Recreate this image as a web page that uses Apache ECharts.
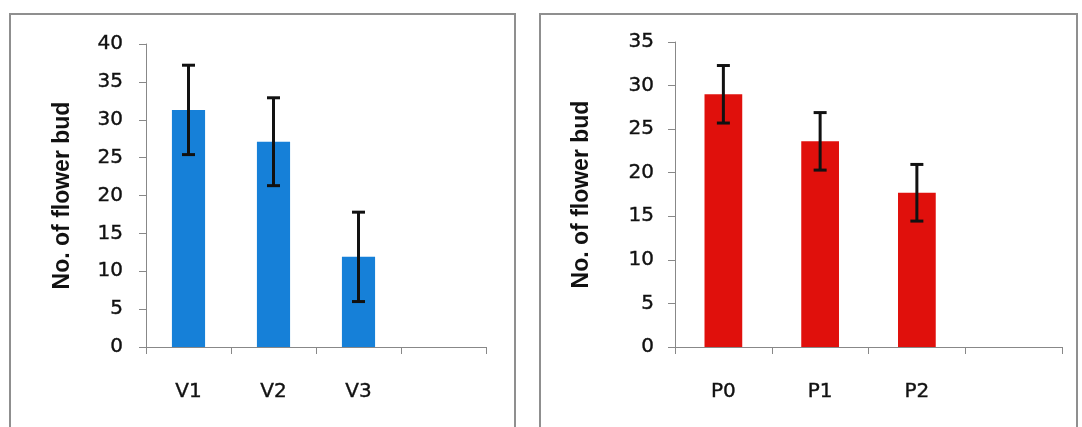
<!DOCTYPE html>
<html>
<head>
<meta charset="utf-8">
<script src="https://cdn.jsdelivr.net/npm/echarts@6/dist/echarts.min.js"></script>
<style>
html,body{margin:0;padding:0;background:#fff;}
#chart{width:1082px;height:427px;}
</style>
</head>
<body>
<div id="chart"></div>
<script>
// ---- data ----
const vCategories = ['V1', 'V2', 'V3', ''];
const vMeans = [31.3, 27.1, 11.9];
const vErrors = [5.9, 5.8, 5.9];
const vTicks = { min: 0, max: 40, interval: 5 };

const pCategories = ['P0', 'P1', 'P2', ''];
const pMeans = [29.0, 23.6, 17.7];
const pErrors = [3.3, 3.3, 3.25];
const pTicks = { min: 0, max: 35, interval: 5 };

const yTitle = 'No. of flower bud';

// ---- build ----
function errData(means, errs) {
  return means.map((m, i) => [i, m - errs[i], m + errs[i]]);
}
function renderErr(params, api) {
  const x = api.value(0);
  const lo = api.coord([x, api.value(1)]);
  const hi = api.coord([x, api.value(2)]);
  const hw = 6.5;
  const style = { stroke: '#111', lineWidth: 3 };
  return {
    type: 'group',
    children: [
      { type: 'line', shape: { x1: hi[0], y1: hi[1], x2: lo[0], y2: lo[1] }, style },
      { type: 'line', shape: { x1: hi[0] - hw, y1: hi[1], x2: hi[0] + hw, y2: hi[1] }, style },
      { type: 'line', shape: { x1: lo[0] - hw, y1: lo[1], x2: lo[0] + hw, y2: lo[1] }, style }
    ]
  };
}
const axisColor = '#888888';
const labelFont = { fontFamily: 'DejaVu Sans', fontSize: 20, color: '#111', textBorderColor: '#111', textBorderWidth: 0.4 };

function xAxisOf(idx, cats) {
  return {
    type: 'category', gridIndex: idx, data: cats,
    axisLine: { lineStyle: { color: axisColor, width: 1 } },
    axisTick: { show: true, length: 7, lineStyle: { color: axisColor } },
    axisLabel: Object.assign({ margin: 35 }, labelFont),
    splitLine: { show: false }
  };
}
function yAxisOf(idx, t, gap, margin) {
  return {
    type: 'value', gridIndex: idx, min: t.min, max: t.max, interval: t.interval,
    name: yTitle, nameLocation: 'middle', nameRotate: 90, nameGap: gap,
    nameTextStyle: { fontFamily: 'Liberation Sans', fontWeight: 'bold', fontSize: 23, color: '#111' },
    axisLine: { show: true, lineStyle: { color: axisColor, width: 1 } },
    axisTick: { show: true, length: 7, lineStyle: { color: axisColor } },
    axisLabel: Object.assign({ margin: margin }, labelFont),
    splitLine: { show: false }
  };
}

const chart = echarts.init(document.getElementById('chart'), null, { renderer: 'canvas' });
chart.setOption({
  animation: false,
  backgroundColor: '#ffffff',
  graphic: [
    { type: 'rect', shape: { x: 10, y: 14, width: 505, height: 440 }, style: { fill: 'none', stroke: '#8f8f8f', lineWidth: 2 } },
    { type: 'rect', shape: { x: 540, y: 14, width: 537, height: 440 }, style: { fill: 'none', stroke: '#8f8f8f', lineWidth: 2 } }
  ],
  grid: [
    { left: 146, right: 596, top: 44, bottom: 80 },
    { left: 675, right: 20, top: 42, bottom: 80 }
  ],
  xAxis: [xAxisOf(0, vCategories), xAxisOf(1, pCategories)],
  yAxis: [yAxisOf(0, vTicks, 72, 23), yAxisOf(1, pTicks, 82, 21)],
  series: [
    { type: 'bar', xAxisIndex: 0, yAxisIndex: 0, data: vMeans, barWidth: '39%', itemStyle: { color: '#1680d8' } },
    { type: 'custom', xAxisIndex: 0, yAxisIndex: 0, data: errData(vMeans, vErrors), renderItem: renderErr, encode: { x: 0, y: [1, 2] }, z: 5 },
    { type: 'bar', xAxisIndex: 1, yAxisIndex: 1, data: pMeans, barWidth: '39%', itemStyle: { color: '#e0100c' } },
    { type: 'custom', xAxisIndex: 1, yAxisIndex: 1, data: errData(pMeans, pErrors), renderItem: renderErr, encode: { x: 0, y: [1, 2] }, z: 5 }
  ]
});
</script>
</body>
</html>
